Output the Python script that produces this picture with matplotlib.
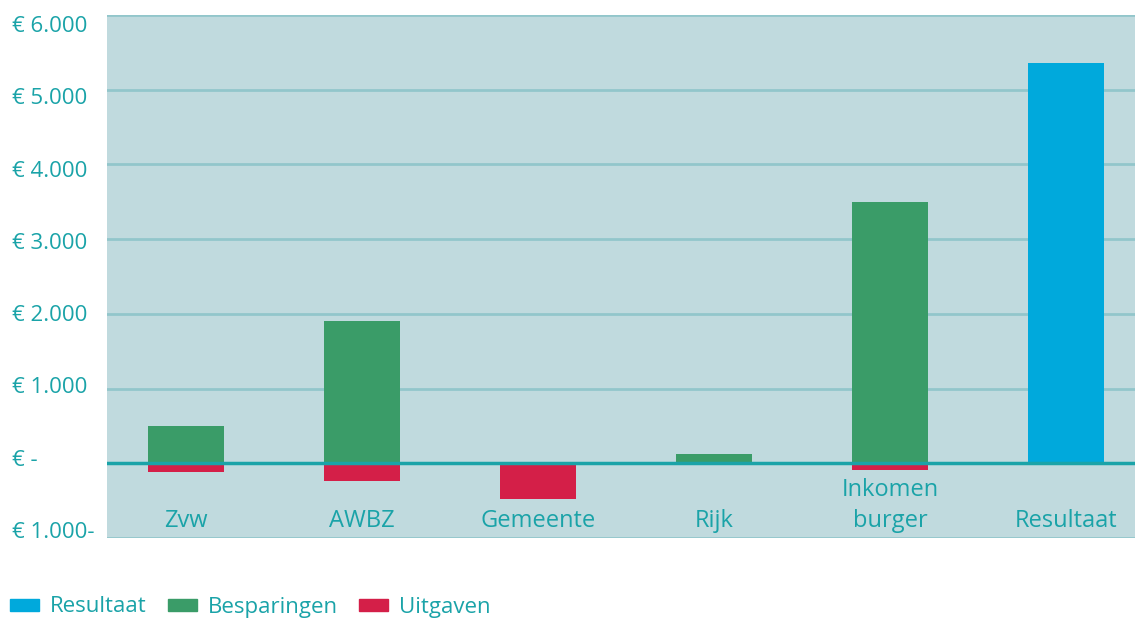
import matplotlib.pyplot as plt
from matplotlib.patches import Patch
import numpy as np

# data
categories = ["Zvw", "AWBZ", "Gemeente", "Rijk", "Inkomen\nburger", "Resultaat"]
besparingen = [500, 1900, 0, 130, 3500, 0]
uitgaven = [-110, -240, -480, 0, -90, 0]
resultaat = [0, 0, 0, 0, 0, 5360]
yticks = [-1000, 0, 1000, 2000, 3000, 4000, 5000, 6000]
ytick_labels = ["€ 1.000-", "€ -", "€ 1.000", "€ 2.000", "€ 3.000",
                "€ 4.000", "€ 5.000", "€ 6.000"]

teal = "#1aa3a8"
bg = "#c0dade"
grid_col = "#92c6cb"
c_res = "#00a9dc"
c_bes = "#3a9c68"
c_uit = "#d41f48"

plt.rcParams['font.family'] = ['Open Sans', 'DejaVu Sans']

fig = plt.figure(figsize=(11.35, 6.19), dpi=100)
ax = fig.add_axes([107 / 1135, 1 - 538 / 619, 1 - 107 / 1135, (538 - 15) / 619])
ax.set_facecolor(bg)

x = np.arange(len(categories))
w = 0.43
ax.bar(x, besparingen, width=w, color=c_bes, zorder=3)
ax.bar(x, uitgaven, width=w, color=c_uit, zorder=3)
ax.bar(x, resultaat, width=w, color=c_res, zorder=3)

ax.set_xlim(-0.449, 5.392)
ax.set_ylim(-1000, 6000)

for t in yticks:
    if t == 0:
        ax.axhline(t, color=teal, lw=2.5, zorder=4)
    else:
        ax.axhline(t, color=grid_col, lw=2, zorder=1)

# in the original the labels sit on a slightly tighter scale than the grid
label_pos = [6000 - 120 - (6000 - v) * 0.9676 for v in yticks]
ax.set_yticks(label_pos)
ax.set_yticklabels(ytick_labels, color=teal, fontsize=16, ha='left')
# labels start about 12 px from the left edge of the figure
ax.tick_params(axis='y', length=0, pad=(107 - 12) * 0.72)
ax.set_xticks([])
for s in ax.spines.values():
    s.set_visible(False)

# category names inside the plot, last line on a common baseline
for i, c in enumerate(categories):
    lines = c.split('\n')
    for j, line in enumerate(reversed(lines)):
        ax.text(i, -773 + j * 415, line, ha='center', va='center', color=teal,
                fontsize=17, zorder=5)

handles = [Patch(color=c_res, label="Resultaat"),
           Patch(color=c_bes, label="Besparingen"),
           Patch(color=c_uit, label="Uitgaven")]
leg = fig.legend(handles=handles, loc='center left', bbox_to_anchor=(10 / 1135, 1 - 607 / 619),
                 ncol=3, frameon=False, fontsize=16, handlelength=1.3, handleheight=0.45,
                 handletextpad=0.5, columnspacing=0.95, borderpad=0, borderaxespad=0,
                 labelcolor=teal)

fig.savefig("out.png", dpi=100)
